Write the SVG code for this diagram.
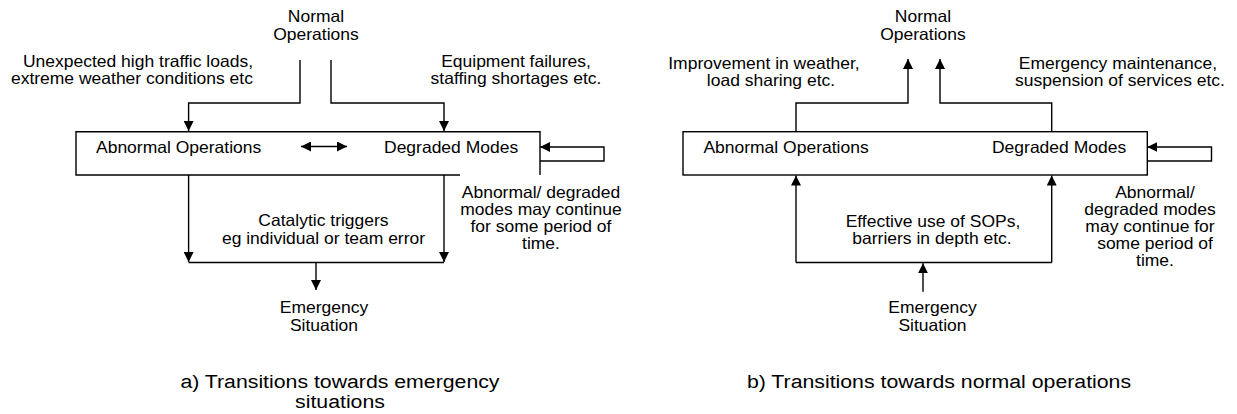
<svg xmlns="http://www.w3.org/2000/svg" width="1237" height="414" viewBox="0 0 1237 414">
  <style>
    text { font-family: "Liberation Sans", Arial, sans-serif; font-size: 16.5px; fill: #000;
           transform-box: fill-box; transform-origin: left center; transform: scaleX(1.06); }
    .c { text-anchor: middle; transform-origin: center; }
    .e { text-anchor: end; transform-origin: right center; }
    .cap { font-size: 19px; text-anchor: middle; transform-origin: center; transform: scaleX(1.12); }
    .ln { fill: none; stroke: #000; stroke-width: 1.4; }
  </style>
  <defs>
    <marker id="arr" viewBox="0 0 10 10" refX="10" refY="5" markerWidth="10" markerHeight="10" markerUnits="userSpaceOnUse" orient="auto-start-reverse">
      <path d="M0,0 L10,5 L0,10 Z" fill="#000"/>
    </marker>
  </defs>
  <rect width="1237" height="414" fill="#fff"/>

  <!-- (a) transitions towards emergency situations -->
  <g id="a-normal"><text class="c" x="316" y="22">Normal</text><text class="c" x="316" y="40">Operations</text></g>
  <g id="a-cause-left"><text class="e" x="253" y="67">Unexpected high traffic loads,</text><text class="e" x="253" y="84">extreme weather conditions etc</text></g>
  <g id="a-cause-right"><text class="c" x="516" y="67">Equipment failures,</text><text class="c" x="516" y="84">staffing shortages etc.</text></g>
  <g id="a-states">
    <path class="ln" d="M460,175 H76 V131.7 H540 V175"/>
    <text x="96" y="153">Abnormal Operations</text>
    <text x="384" y="153">Degraded Modes</text>
  </g>
  <g id="a-trigger"><text class="c" x="323.5" y="226">Catalytic triggers</text><text class="c" x="323.5" y="244">eg individual or team error</text></g>
  <g id="a-emergency"><text class="c" x="324" y="313">Emergency</text><text class="c" x="324" y="331">Situation</text></g>
  <g id="a-note">
    <text class="c" x="541" y="198">Abnormal/ degraded</text>
    <text class="c" x="541" y="215">modes may continue</text>
    <text class="c" x="541" y="232">for some period of</text>
    <text class="c" x="541" y="249">time.</text>
  </g>
  <g id="a-caption"><text class="cap" x="340" y="388">a) Transitions towards emergency</text><text class="cap" x="340" y="408">situations</text></g>

  <!-- (b) transitions towards normal operations -->
  <g id="b-normal"><text class="c" x="923" y="22">Normal</text><text class="c" x="923" y="40">Operations</text></g>
  <g id="b-cause-left"><text class="c" x="764" y="69.5">Improvement in weather,</text><text class="c" x="771" y="86.5">load sharing etc.</text></g>
  <g id="b-cause-right"><text class="c" x="1118" y="69.5">Emergency maintenance,</text><text class="c" x="1120" y="86.5">suspension of services etc.</text></g>
  <g id="b-states">
    <rect class="ln" x="683" y="131.7" width="464.3" height="43.3"/>
    <text x="703.4" y="153">Abnormal Operations</text>
    <text x="992" y="153">Degraded Modes</text>
  </g>
  <g id="b-measures"><text class="c" x="933" y="227">Effective use of SOPs,</text><text class="c" x="932" y="244.5">barriers in depth etc.</text></g>
  <g id="b-emergency"><text class="c" x="932.5" y="313">Emergency</text><text class="c" x="932.5" y="331">Situation</text></g>
  <g id="b-note">
    <text class="c" x="1155" y="198">Abnormal/</text>
    <text class="c" x="1150" y="215">degraded modes</text>
    <text class="c" x="1150" y="232">may continue for</text>
    <text class="c" x="1155" y="249">some period of</text>
    <text class="c" x="1155" y="266">time.</text>
  </g>
  <g id="b-caption"><text class="cap" x="939" y="388">b) Transitions towards normal operations</text></g>

  <g id="connectors">
    <!-- (a) -->
    <path class="ln" d="M300,60 V103 H188.6 V131" marker-end="url(#arr)"/>
    <path class="ln" d="M331,60 V103 H444 V131" marker-end="url(#arr)"/>
    <path class="ln" d="M301,146.5 H347" marker-start="url(#arr)" marker-end="url(#arr)"/>
    <path class="ln" d="M540,161 H604 V147 H540" marker-end="url(#arr)"/>
    <path class="ln" d="M188.6,175 V262" marker-end="url(#arr)"/>
    <path class="ln" d="M444,175 V262" marker-end="url(#arr)"/>
    <path class="ln" d="M188.6,262.5 H444"/>
    <path class="ln" d="M316,262.5 V290" marker-end="url(#arr)"/>
    <!-- (b) -->
    <path class="ln" d="M796,131.7 V103 H908 V59" marker-end="url(#arr)"/>
    <path class="ln" d="M1051.7,131.7 V103 H940 V59" marker-end="url(#arr)"/>
    <path class="ln" d="M1147.3,161 H1211.5 V147 H1147.3" marker-end="url(#arr)"/>
    <path class="ln" d="M796,262.5 V175.5" marker-end="url(#arr)"/>
    <path class="ln" d="M1051.7,262.5 V175.5" marker-end="url(#arr)"/>
    <path class="ln" d="M796,262.5 H1051.7"/>
    <path class="ln" d="M923,291.7 V263.3" marker-end="url(#arr)"/>
  </g>
</svg>
